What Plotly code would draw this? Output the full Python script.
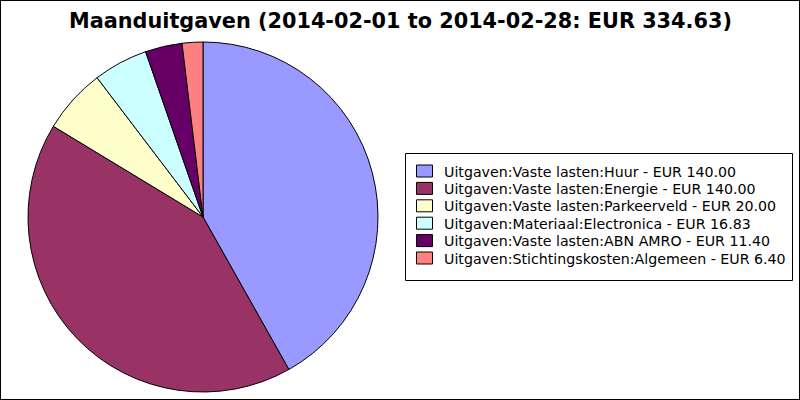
import plotly.graph_objects as go

categories = [
    "Uitgaven:Vaste lasten:Huur",
    "Uitgaven:Vaste lasten:Energie",
    "Uitgaven:Vaste lasten:Parkeerveld",
    "Uitgaven:Materiaal:Electronica",
    "Uitgaven:Vaste lasten:ABN AMRO",
    "Uitgaven:Stichtingskosten:Algemeen",
]
values = [140.00, 140.00, 20.00, 16.83, 11.40, 6.40]
colors = ["#9999ff", "#993366", "#ffffcc", "#ccffff", "#660066", "#ff8080"]
title_text = "Maanduitgaven (2014-02-01 to 2014-02-28: EUR 334.63)"

labels = [f"{c} - EUR {v:.2f}" for c, v in zip(categories, values)]

W, H = 800, 400


def px(x):
    return x / W


def py(y):
    return 1 - y / H


fig = go.Figure(go.Pie(
    labels=labels,
    values=values,
    sort=False,
    direction="clockwise",
    rotation=0,
    textinfo="none",
    showlegend=False,
    marker=dict(colors=colors, line=dict(color="black", width=1)),
    domain=dict(x=[px(28), px(378)], y=[py(392), py(42)]),
))

# Legend drawn as a boxed list (layout only; labels/colours come from the data lists)
shapes = [
    dict(type="rect", xref="paper", yref="paper", x0=0, x1=1, y0=0, y1=1,
         line=dict(color="black", width=2)),
    dict(type="rect", xref="paper", yref="paper",
         x0=px(405.5), x1=px(792.5), y0=py(153.5), y1=py(280.5),
         line=dict(color="black", width=1), fillcolor="white", layer="below"),
]
annotations = [dict(
    text=f"<b>{title_text}</b>", x=0.5, y=py(21), xref="paper", yref="paper",
    showarrow=False, xanchor="center", yanchor="middle",
    font=dict(family="DejaVu Sans", size=20.8, color="black"),
)]
row0, step = 171.0, 17.4
for i, (lab, col) in enumerate(zip(labels, colors)):
    yc = row0 + i * step
    shapes.append(dict(
        type="rect", xref="paper", yref="paper",
        x0=px(416.5), x1=px(432.5), y0=py(yc - 6), y1=py(yc + 6),
        fillcolor=col, line=dict(color="black", width=1),
    ))
    annotations.append(dict(
        text=lab, x=px(442), y=py(yc + 0.5), xref="paper", yref="paper",
        showarrow=False, xanchor="left", yanchor="middle",
        font=dict(family="DejaVu Sans", size=14.2, color="black"),
    ))

fig.update_layout(
    width=W, height=H,
    margin=dict(l=0, r=0, t=0, b=0),
    paper_bgcolor="white",
    plot_bgcolor="white",
    font=dict(family="DejaVu Sans", size=13, color="black"),
    showlegend=False,
    annotations=annotations,
    shapes=shapes,
)

fig.write_html(
    "out.html",
    config={"displayModeBar": False},
    post_script="document.body.style.margin='0';document.body.style.overflow='hidden';",
)
